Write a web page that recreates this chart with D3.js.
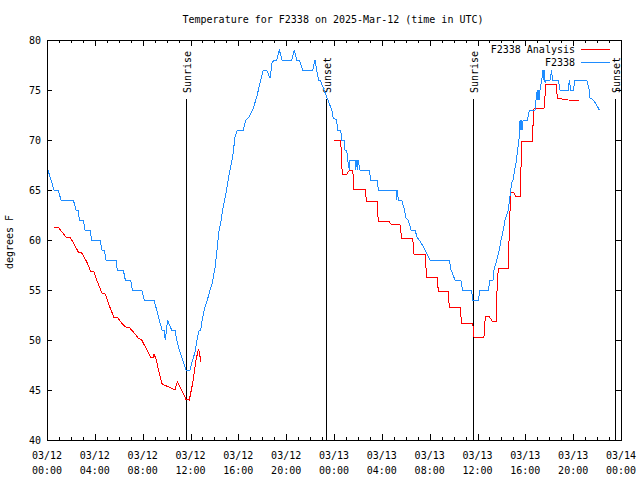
<!DOCTYPE html>
<html><head><meta charset="utf-8">
<script src="https://cdn.jsdelivr.net/npm/d3@7"></script>
<style>
html,body{margin:0;padding:0;background:#fff;}
text{font-family:"DejaVu Sans Mono",monospace;font-size:10px;fill:#000;}
</style></head>
<body>
<script>
// ---- data (hours since 03/12 00:00 UTC, degrees F) ----
const obsHours = [0.08,0.59,0.94,1.17,2.20,2.43,2.62,2.70,3.04,3.18,3.60,3.74,4.43,4.60,4.79,4.93,5.77,5.88,6.38,6.55,7.00,7.13,7.92,8.14,8.95,9.17,9.39,9.62,9.79,9.89,10.09,10.24,10.43,10.70,10.85,11.06,11.35,11.62,11.96,12.18,12.38,12.57,12.74,12.85,13.02,13.21,13.41,13.63,13.82,13.91,14.05,14.19,14.24,14.41,14.53,14.69,14.97,15.25,15.53,15.72,15.91,16.42,16.62,16.89,17.20,17.54,17.81,18.09,18.37,18.65,18.82,18.98,19.21,19.43,19.65,20.46,20.68,20.88,21.10,21.38,22.22,22.41,22.55,22.72,22.83,23.11,23.39,23.81,23.94,24.23,24.28,24.56,24.64,24.86,24.92,25.06,25.15,25.28,25.34,25.76,25.82,25.87,25.95,26.01,26.18,26.95,27.07,27.62,27.71,29.19,29.24,29.29,29.38,29.66,29.85,30.02,30.21,30.44,30.77,30.97,31.13,31.53,32.03,33.64,33.79,34.12,34.60,34.76,35.52,35.58,36.07,36.21,36.90,37.05,37.30,37.38,37.61,37.82,37.97,38.16,38.30,38.58,38.66,38.86,38.97,39.14,39.28,39.33,39.45,39.56,39.64,39.70,39.75,39.81,40.17,40.34,40.81,40.89,41.00,41.06,41.12,41.17,41.23,41.37,41.48,41.54,41.56,41.65,41.73,42.06,42.21,42.25,42.76,42.90,43.60,43.68,43.80,44.01,44.15,45.13,45.35,45.41,45.69,45.91,46.19];
const obsTemps = [67,65,65,64,64,63,63,62,62,61,61,60,60,59,59,58,58,57,57,56,56,55,55,54,54,53,52,51,51,50,52,51.5,51,51,50,49,48,47,47,48,48.8,50.2,51,51,52.3,53.3,54,55,55.7,56.3,57.2,58.7,59.3,61.2,61.7,63,64.7,66.7,68.3,70.3,71,71,72,72.3,73,74.3,75.7,77,77,76.2,77.7,78,78,79,78,78,79,78,78,77,77,78,77,76,76,75.2,74.3,73,72.2,72,71,71,70,70,69,69,68,67,68,68,67,68,67,68,67,67,66,66,65,65,64,65,64,64,63.2,62.2,62,61,61,60.2,60,59.2,58,58,57,56,56,55,55,54,54,55,55,56,56,57,58,59,60,61,62,63,63.8,65.7,66,67.2,68,69,69.7,72,71,72,71,72,72,73,73,74,75,74,75,74,75,76,77,76,77,75.7,76,76,77,76,76,75,75,76,75,75,76,76,75,74.2,74,73.6,73];
const anaHours = [0.59,0.94,1.31,1.59,1.92,2.20,2.62,2.90,3.32,3.65,3.93,4.21,4.60,4.88,5.13,5.60,5.88,6.25,6.61,6.88,7.36,7.64,7.92,8.28,8.67,8.89,8.95,9.12,9.59,9.78,10.14,10.70,10.90,11.12,11.62,11.90,12.18,12.46,12.65,12.74,12.85,12.90,18.0,24.03,24.56,24.69,25.06,25.20,25.40,25.57,25.67,26.59,26.73,27.62,27.70,28.63,28.74,29.52,29.66,30.58,30.69,31.61,31.75,32.64,32.72,33.56,33.64,34.54,34.68,35.60,35.65,35.71,36.54,36.65,36.99,37.27,37.55,37.61,37.74,38.58,38.66,38.78,39.05,39.22,39.56,39.64,39.72,40.56,40.73,41.56,41.73,42.57,42.68,43.60,44.51];
const anaTemps = [61.27,61.27,60.73,60.27,60.27,59.73,58.8,58.7,57.83,56.87,56.8,55.83,54.67,54.6,53.67,52.27,52.27,51.67,51.27,51.27,50.6,50.17,50.0,49.17,48.27,48.27,48.6,48.07,45.67,45.5,45.33,45.0,45.83,45.33,44.07,44.0,45.67,48,49,48.8,47.9,47.9,null,70,70,66.57,66.57,66.87,67,67,65.07,65.07,63.87,63.87,61.83,61.83,61.6,61.5,60.17,60.17,58.6,58.6,56.27,56.27,54.87,54.87,53.23,53.23,51.67,51.67,51.07,50.27,50.27,52.33,52.33,51.83,51.83,54.5,57.17,57.17,61.07,64.73,64.73,64.33,64.33,67.33,69.83,69.83,73.17,73.17,75.6,75.6,74.17,74.0,73.93];
const sunHours = [11.62, 23.33, 35.6, 47.5];
const sunLabels = ["Sunrise","Sunset","Sunrise","Sunset"];
const xTickHours = [0,4,8,12,16,20,24,28,32,36,40,44,48];
const xTickDates = ["03/12","03/12","03/12","03/12","03/12","03/12","03/13","03/13","03/13","03/13","03/13","03/13","03/14"];
const xTickTimes = ["00:00","04:00","08:00","12:00","16:00","20:00","00:00","04:00","08:00","12:00","16:00","20:00","00:00"];
const yTicks = [40,45,50,55,60,65,70,75,80];
const seriesNames = ["F2338 Analysis","F2338"];
const seriesColors = ["#ff0000","#1e8cff"];
const titleText = "Temperature for F2338 on 2025-Mar-12 (time in UTC)";
const yTitle = "degrees F";

// ---- layout ----
const W = 640, H = 480;
const L = 47, R = 621, T = 40, B = 440;
const x = d3.scaleLinear().domain([0,48]).range([L,R]);
const y = d3.scaleLinear().domain([40,80]).range([B,T]);

const svg = d3.select("body").append("svg").attr("width",W).attr("height",H);
svg.append("rect").attr("width",W).attr("height",H).attr("fill","#fff");

const px = v => Math.round(v)+0.5;

// frame
svg.append("rect").attr("x",L+0.5).attr("y",T+0.5).attr("width",R-L).attr("height",B-T)
  .attr("fill","none").attr("stroke","#000").attr("shape-rendering","crispEdges");

const hours = d3.range(1,48);
const tk = svg.append("g").attr("stroke","#000").attr("shape-rendering","crispEdges");
hours.forEach(h => {
  const len = h%4===0 ? 6 : 3;
  tk.append("line").attr("x1",px(x(h))).attr("x2",px(x(h))).attr("y1",B).attr("y2",B-len);
  tk.append("line").attr("x1",px(x(h))).attr("x2",px(x(h))).attr("y1",T).attr("y2",T+len);
});
yTicks.slice(1,-1).forEach(v => {
  tk.append("line").attr("x1",L).attr("x2",L+5).attr("y1",px(y(v))).attr("y2",px(y(v)));
  tk.append("line").attr("x1",R).attr("x2",R-5).attr("y1",px(y(v))).attr("y2",px(y(v)));
});

// y labels
svg.append("g").selectAll("text").data(yTicks).join("text")
  .attr("x",41).attr("y",d=>y(d)+4).attr("text-anchor","end").text(d=>d);

// x labels
const xl = svg.append("g");
xTickHours.forEach((h,i)=>{
  xl.append("text").attr("x",x(h)).attr("y",459).attr("text-anchor","middle").text(xTickDates[i]);
  xl.append("text").attr("x",x(h)).attr("y",474).attr("text-anchor","middle").text(xTickTimes[i]);
});

// title
svg.append("text").attr("x",(L+R)/2-1).attr("y",23).attr("text-anchor","middle").text(titleText);
svg.append("text").attr("transform","translate(13,242) rotate(-90)").attr("text-anchor","middle").text(yTitle);

// sun lines
sunHours.forEach((h,i)=>{
  svg.append("line").attr("x1",px(x(h))).attr("x2",px(x(h))).attr("y1",99).attr("y2",B)
    .attr("stroke","#000").attr("shape-rendering","crispEdges");
  svg.append("text").attr("transform",`translate(${px(x(h))+4},93) rotate(-90)`)
    .attr("text-anchor","start").text(sunLabels[i]);
});

// series
const obs = obsHours.map((h,i)=>({h, v: obsTemps[i]}));
const ana = anaHours.map((h,i)=>({h, v: anaTemps[i]}));
const line = d3.line().defined(d=>d.v!=null).x(d=>x(d.h)).y(d=>y(d.v));
svg.append("path").datum(ana).attr("d",line).attr("fill","none").attr("stroke",seriesColors[0])
  .attr("stroke-width",1).attr("shape-rendering","crispEdges");
svg.append("path").datum(obs).attr("d",line).attr("fill","none").attr("stroke",seriesColors[1])
  .attr("stroke-width",1).attr("shape-rendering","crispEdges");

// legend
seriesNames.forEach((n,i)=>{
  const yy = 49 + i*13;
  svg.append("text").attr("x",575).attr("y",yy+4).attr("text-anchor","end").text(n);
  svg.append("line").attr("x1",581).attr("x2",610).attr("y1",yy+0.5).attr("y2",yy+0.5)
    .attr("stroke",seriesColors[i]).attr("shape-rendering","crispEdges");
});
</script>
</body></html>
